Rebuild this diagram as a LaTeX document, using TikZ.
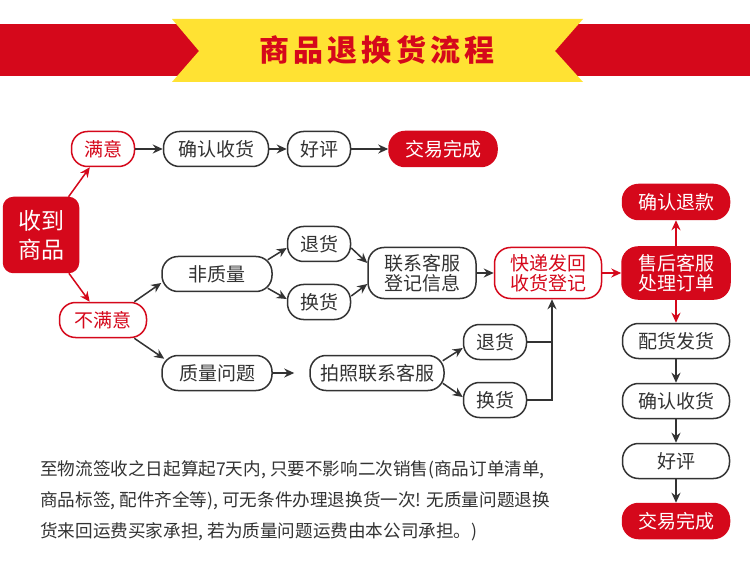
\documentclass[tikz,border=0pt]{standalone}
\usepackage{fontspec}
\setmainfont{Noto Sans CJK SC}
\usepackage{tikz}
\usetikzlibrary{arrows.meta,positioning}
\definecolor{zred}{RGB}{213,8,27}
\definecolor{zyellow}{RGB}{255,226,51}
\definecolor{zgray}{RGB}{51,51,51}

\begin{document}
\begin{tikzpicture}[x = 1pt, y = -1pt,
    pill/.style = {draw = zgray, line width = 1.5pt, fill = white, rounded corners = 16pt,
      minimum height = 35pt, minimum width = #1, inner sep = 0pt, text = zgray,
      font = \fontsize{19}{20}\selectfont, align = center},
    pill/.default = 107pt,
    pillred/.style = {pill = #1, draw = zred, text = zred},
    pillred/.default = 107pt,
    pillfill/.style = {pill = #1, draw = zred, fill = zred, text = white},
    pillfill/.default = 107pt,
    note/.style = {anchor = west, inner sep = 0pt, text = zgray, font = \fontsize{17.6}{19}\selectfont},
    arr/.style = {-{Stealth[length = 10pt, width = 9pt]}, line width = 1.5pt, draw = zgray},
    redarr/.style = {arr, draw = zred}]
    \useasboundingbox[fill = white] (0,0) rectangle (750,588);
    % header ribbon
    \fill[zred] (0,24) rectangle (750,76);
    \fill[zyellow] (172,19) -- (583,19) -- (555,51) -- (583,82) -- (172,82) -- (199,51) -- cycle;
    \node[text = zred, font = \fontsize{30}{32}\bfseries\addfontfeature{LetterSpace = 14}] (title) at (377,50) {商品退换货流程};
    % nodes
    \node[pillfill, rounded corners = 10pt, minimum width = 75pt, minimum height = 75pt, font = \fontsize{23}{29}\selectfont] (recv) at (41,235) {收到\\商品};
    \node[pillred = 63pt] (sat) at (103,149) {满意};
    \node[pill = 105pt] (ok1) at (216,149) {确认收货};
    \node[pill = 63pt] (good1) at (319,149) {好评};
    \node[pillfill = 108pt] (done1) at (443,149) {交易完成};
    \node[pillred = 87pt] (unsat) at (103,320) {不满意};
    \node[pill = 110pt] (nonq) at (217,274) {非质量};
    \node[pill = 110pt] (qual) at (217,373) {质量问题};
    \node[pill = 63pt] (ret1) at (319,244) {退货};
    \node[pill = 63pt] (exc1) at (319,302) {换货};
    \node[pill = 108pt, minimum height = 51pt] (contact) at (422,273) {联系客服\\登记信息};
    \node[pillred, minimum height = 51pt] (express) at (548,273) {快递发回\\收货登记};
    \node[pillfill = 108pt, minimum height = 52pt] (after) at (676,273) {售后客服\\处理订单};
    \node[pillfill] (refund) at (676,202) {确认退款};
    \node[pill] (ship) at (676,341) {配货发货};
    \node[pill] (ok2) at (676,401) {确认收货};
    \node[pill] (good2) at (676,461) {好评};
    \node[pillfill] (done2) at (676,521) {交易完成};
    \node[pill = 134pt] (photo) at (377,373) {拍照联系客服};
    \node[pill = 63pt] (ret2) at (495,342) {退货};
    \node[pill = 63pt] (exc2) at (495,400) {换货};
    \coordinate (join) at ([xshift = 4pt]express.south);
    % connectors
    \draw[redarr] (recv) -- (sat);
    \draw[redarr] (recv) -- (unsat);
    \draw[arr] (sat) -- (ok1);
    \draw[arr] (ok1) -- (good1);
    \draw[arr] (good1) -- (done1);
    \draw[arr] ([xshift = -13pt]unsat.north east) -- ([yshift = -9pt]nonq.west);
    \draw[arr] ([xshift = -13pt]unsat.south east) -- ([xshift = 3pt, yshift = -4pt]qual.north west);
    \draw[arr] ([xshift = -5pt, yshift = -4pt]nonq.north east) -- ([yshift = -4pt]ret1.west);
    \draw[arr] ([xshift = -5pt, yshift = 4pt]nonq.south east) -- ([yshift = 3pt]exc1.west);
    \draw[arr] ([yshift = -4pt]ret1.east) -- ([yshift = 10pt]contact.west);
    \draw[arr] ([yshift = 6pt]exc1.east) -- ([yshift = -11pt]contact.west);
    \draw[arr] (contact) -- (express);
    \draw[redarr] (express) -- (after);
    \draw[redarr] (after) -- (refund);
    \draw[redarr] (after) -- (ship);
    \draw[arr] (ship) -- (ok2);
    \draw[arr] (ok2) -- (good2);
    \draw[arr] (good2) -- (done2);
    \draw[arr, shorten > = 15pt] (qual) -- (photo);
    \draw[arr] ([xshift = -2pt, yshift = -6pt]photo.north east) -- ([yshift = -6pt]ret2.west);
    \draw[arr] ([xshift = -2pt, yshift = 8pt]photo.south east) -- ([yshift = 3pt]exc2.west);
    \draw[line width = 1.5pt, draw = zgray] (ret2.east) -- (ret2.east -| join);
    \draw[arr] (exc2.east) -| (join);
    % note
    \node[note] (note1) at (40,470) {至物流签收之日起算起7天内, 只要不影响二次销售(商品订单清单,};
    \node[note] (note2) at (40,501) {商品标签, 配件齐全等), 可无条件办理退换货一次! 无质量问题退换};
    \node[note] (note3) at (40,532) {货来回运费买家承担, 若为质量问题运费由本公司承担。)};
\end{tikzpicture}
\end{document}
